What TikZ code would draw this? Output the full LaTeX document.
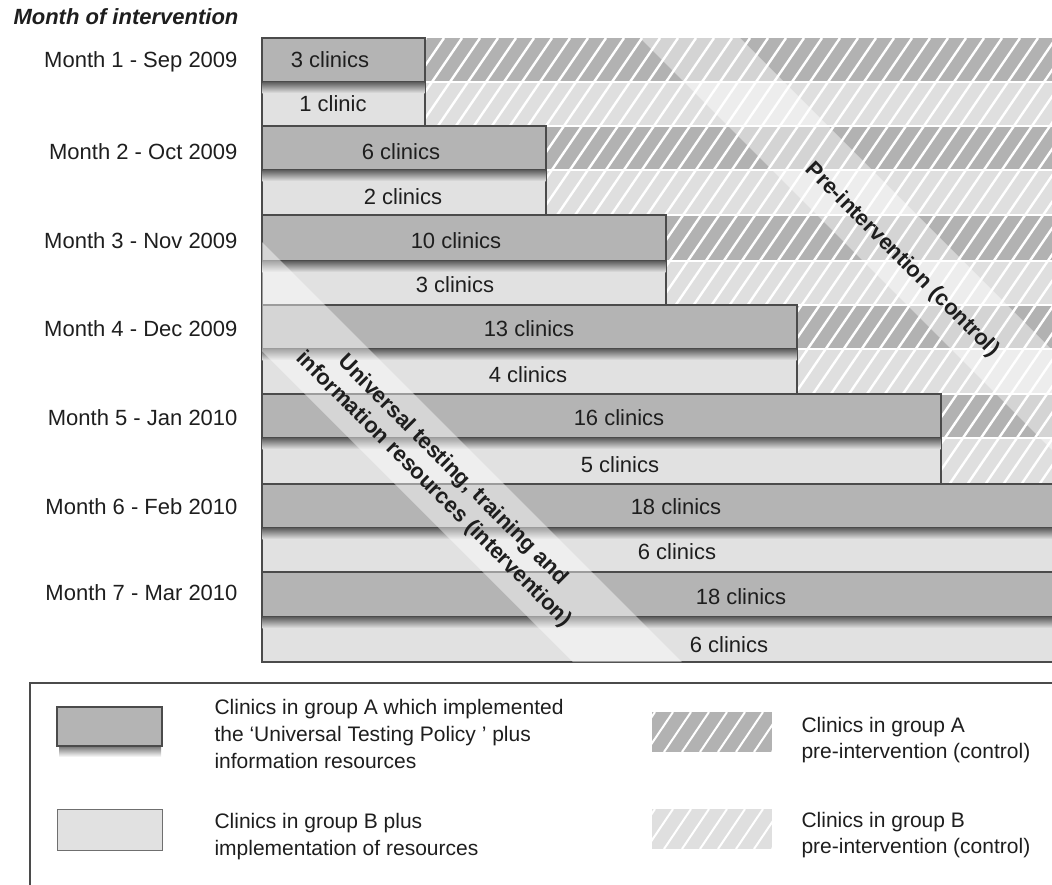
\documentclass[tikz,border=0pt]{standalone}
\usepackage{fontspec}
\setmainfont{Liberation Sans}
\definecolor{barA}{RGB}{180,180,180}
\definecolor{barB}{RGB}{225,225,225}
\definecolor{hatA}{RGB}{178,178,178}
\definecolor{hatB}{RGB}{223,223,223}
\definecolor{edge}{RGB}{75,75,75}
\definecolor{ink}{RGB}{30,30,30}
\tikzset{
 barAstyle/.style={fill=barA, draw=edge, line width=1.3pt},
 barBstyle/.style={fill=barB, draw=edge, line width=1.3pt},
 bartext/.style={font=\fontsize{22}{26}\selectfont, text=ink},
 monthlabel/.style={font=\fontsize{22}{26}\selectfont, text=ink, anchor=east},
 bandtext/.style={font=\bfseries\fontsize{22}{27}\selectfont, text=ink, rotate=-45, align=center},
 legtext/.style={font=\fontsize{21}{27}\selectfont, text=ink, anchor=west, align=left},
 hatchline/.style={white, line width=2.4pt},
 bandfill/.style={fill=white, fill opacity=0.45},
}
\begin{document}
\begin{tikzpicture}[x=1pt,y=-1pt]
\useasboundingbox (0,0) rectangle (1052,884);
\clip (0,0) rectangle (1052,884);

% hatched (pre-intervention) background
\foreach \ta/\tm/\tb in {38/82/126,126/170/215,215/261/305,305/349/394,394/438/484,484/528/572,572/617/662}{
  \fill[hatA] (262,\ta) rectangle (1052,\tm);
  \fill[hatB] (262,\tm) rectangle (1052,\tb);
}
\begin{scope}
  \clip (262,38) rectangle (1052,662);
  \foreach \x in {-180,-162,...,1060} \draw[hatchline] (\x,662) -- ++(426,-624);
  \foreach \y in {82,126,170,215,261,305,349,394,438,484,528,572,617} \draw[white, line width=2.5pt] (262,\y) -- (1052,\y);
  \fill[bandfill] (640,38) -- (740,38) -- (1364,662) -- (1264,662) -- cycle;
\end{scope}

% bars
\foreach \ta/\tm/\tb/\r in {38/82/126/425,126/170/215/546,215/261/305/666,305/349/394/797,394/438/484/941,484/528/572/1060,572/617/662/1060}{
  \draw[barAstyle] (262,\ta) rectangle (\r,\tm);
  \draw[barBstyle] (262,\tm) rectangle (\r,\tb);
  \shade[top color=black!60, bottom color=barB] (262.7,\tm+0.7) rectangle (\r-0.7,\tm+11);
}

% intervention band
\begin{scope}
  \clip (262,38) rectangle (1052,662);
  \fill[bandfill] (-51,38) -- (58,38) -- (682,662) -- (573,662) -- cycle;
\end{scope}

% bar labels
\node[bartext] (r1a) at (330,60) {3 clinics};
\node[bartext] (r1b) at (333,104) {1 clinic};
\node[bartext] (r2a) at (401,152) {6 clinics};
\node[bartext] (r2b) at (403,197) {2 clinics};
\node[bartext] (r3a) at (456,241) {10 clinics};
\node[bartext] (r3b) at (455,285) {3 clinics};
\node[bartext] (r4a) at (529,329) {13 clinics};
\node[bartext] (r4b) at (528,375) {4 clinics};
\node[bartext] (r5a) at (619,418) {16 clinics};
\node[bartext] (r5b) at (620,465) {5 clinics};
\node[bartext] (r6a) at (676,507) {18 clinics};
\node[bartext] (r6b) at (677,552) {6 clinics};
\node[bartext] (r7a) at (741,597) {18 clinics};
\node[bartext] (r7b) at (729,645) {6 clinics};

% band labels
\node[bandtext] (univ) at (443,480) {Universal testing, training and\\information resources (intervention)};
\node[bandtext] (pre) at (902,260) {Pre-intervention (control)};

% month labels
\node[anchor=west, font=\bfseries\itshape\fontsize{22}{26}\selectfont, text=ink] (title) at (10,17) {Month of intervention};
\node[monthlabel] (m1) at (241,62) {Month 1 - Sep 2009};
\node[monthlabel] (m2) at (241,152) {Month 2 - Oct 2009};
\node[monthlabel] (m3) at (241,241) {Month 3 - Nov 2009};
\node[monthlabel] (m4) at (241,329) {Month 4 - Dec 2009};
\node[monthlabel] (m5) at (241,418) {Month 5 - Jan 2010};
\node[monthlabel] (m6) at (241,507) {Month 6 - Feb 2010};
\node[monthlabel] (m7) at (241,593) {Month 7 - Mar 2010};

% legend
\draw[edge, line width=1.5pt] (30,900) -- (30,683) -- (1070,683);
\shade[top color=black!55, bottom color=white] (59,746) rectangle (161,757);
\draw[barAstyle] (57,707) rectangle (162,746);
\draw[fill=barB, draw=edge!80, line width=1pt] (57,809) rectangle (162,850);
\begin{scope}
  \clip (652,712) rectangle (772,752);
  \fill[hatA] (652,712) rectangle (772,752);
  \foreach \x in {610,628,...,790} \draw[white, line width=2pt] (\x,752) -- ++(27,-40);
\end{scope}
\begin{scope}
  \clip (652,809) rectangle (772,849);
  \fill[hatB] (652,809) rectangle (772,849);
  \foreach \x in {610,628,...,790} \draw[white, line width=2pt] (\x,849) -- ++(27,-40);
\end{scope}
\node[legtext] (legA) at (211,734) {Clinics in group A which implemented\\the ‘Universal Testing Policy ’ plus\\information resources};
\node[legtext] (legB) at (211,837) {Clinics in group B plus\\implementation of resources};
\node[legtext, font=\fontsize{21}{26}\selectfont] (legC) at (798,740) {Clinics in group A\\pre-intervention (control)};
\node[legtext, font=\fontsize{21}{26}\selectfont] (legD) at (798,835) {Clinics in group B\\pre-intervention (control)};
\end{tikzpicture}
\end{document}
